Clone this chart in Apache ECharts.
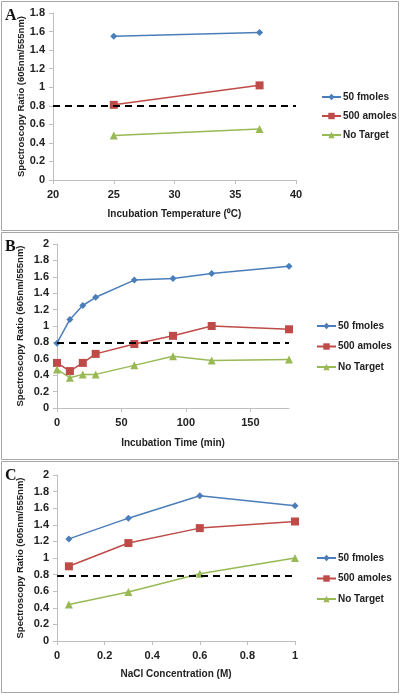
<!DOCTYPE html>
<html>
<head>
<meta charset="utf-8">
<script src="https://cdn.jsdelivr.net/npm/echarts@6/dist/echarts.min.js"></script>
<style>html,body{margin:0;padding:0;background:#fff}#c{width:400px;height:694px}</style>
</head>
<body>
<div id="c"></div>
<script>
// Panel A: incubation temperature
const tempX = [25, 37];
const tempFmol = [1.55, 1.59];
const tempAmol = [0.81, 1.02];
const tempNone = [0.48, 0.55];
// Panel B: incubation time
const timeX = [0, 10, 20, 30, 60, 90, 120, 180];
const timeFmol = [0.79, 1.08, 1.25, 1.35, 1.56, 1.58, 1.64, 1.73];
const timeAmol = [0.55, 0.45, 0.55, 0.66, 0.78, 0.88, 1.00, 0.96];
const timeNone = [0.47, 0.37, 0.41, 0.41, 0.52, 0.63, 0.58, 0.59];
// Panel C: NaCl concentration
const naclX = [0.05, 0.3, 0.6, 1.0];
const naclFmol = [1.23, 1.48, 1.75, 1.63];
const naclAmol = [0.90, 1.18, 1.36, 1.44];
const naclNone = [0.44, 0.59, 0.81, 1.00];
// Threshold (dashed line) per panel
const thresholds = [0.80, 0.79, 0.79];
const seriesNames = ['50 fmoles', '500 amoles', 'No Target'];
const panelLetters = ['A', 'B', 'C'];
const xTitles = ['Incubation Temperature (\u2070C)', 'Incubation Time (min)', 'NaCl Concentration (M)'];
const yTitle = 'Spectroscopy Ratio (605nm/555nm)';

const colors = ['#4a7ebb', '#be4b48', '#98b954'];
const symbols = ['diamond', 'rect', 'triangle'];
const symSizes = [7, 8, 8];
const FONT = '"Liberation Sans", Arial, sans-serif';

const panels = [
  {x: tempX, ys: [tempFmol, tempAmol, tempNone], grid: {left: 53, top: 13, width: 243, height: 167},
   xmin: 20, xmax: 40, xint: 5, ymax: 1.8, nameGapX: 29, nameGapY: 27, legendTop: 87, legendLeft: 316, gap: 9},
  {x: timeX, ys: [timeFmol, timeAmol, timeNone], grid: {left: 57, top: 244, width: 232, height: 164},
   xmin: 0, xmax: 180, xint: 50, ymax: 2, nameGapX: 30, nameGapY: 32, legendTop: 316, legendLeft: 311, gap: 10.5, hideMax: true},
  {x: naclX, ys: [naclFmol, naclAmol, naclNone], grid: {left: 57, top: 475, width: 238, height: 166},
   xmin: 0, xmax: 1, xint: 0.2, ymax: 2, nameGapX: 28, nameGapY: 32, legendTop: 548, legendLeft: 311, gap: 10.5}
];

const axisLineStyle = {lineStyle: {color: '#bfbfbf', width: 1}};
const labelStyle = {color: '#222', fontWeight: 'bold', fontSize: 11, fontFamily: FONT};
const xNameStyle = {color: '#222', fontWeight: 'bold', fontSize: 10, fontFamily: FONT};
const yNameStyle = {color: '#222', fontWeight: 'bold', fontSize: 9.5, fontFamily: FONT};

const option = {
  animation: false,
  backgroundColor: '#fff',
  grid: [], xAxis: [], yAxis: [], series: [], legend: [], graphic: []
};

panels.forEach((p, i) => {
  option.grid.push(p.grid);
  option.xAxis.push({
    type: 'value', gridIndex: i, min: p.xmin, max: p.xmax, interval: p.xint,
    axisLine: axisLineStyle, axisTick: {show: true, length: 4, lineStyle: {color: '#bfbfbf'}},
    splitLine: {show: false},
    axisLabel: Object.assign({margin: 9, showMaxLabel: !p.hideMax}, labelStyle),
    name: xTitles[i], nameLocation: 'middle', nameGap: p.nameGapX, nameTextStyle: xNameStyle,
    nameMoveOverlap: false
  });
  option.yAxis.push({
    type: 'value', gridIndex: i, min: 0, max: p.ymax, interval: 0.2,
    axisLine: {show: true, lineStyle: {color: '#bfbfbf'}},
    axisTick: {show: true, length: 4, lineStyle: {color: '#bfbfbf'}},
    splitLine: {show: false},
    axisLabel: Object.assign({margin: 8}, labelStyle),
    name: yTitle, nameLocation: 'middle', nameGap: p.nameGapY, nameTextStyle: yNameStyle,
    nameMoveOverlap: false
  });
  p.ys.forEach((vals, k) => {
    const s = {
      type: 'line', name: seriesNames[k], xAxisIndex: i, yAxisIndex: i,
      data: p.x.map((xv, j) => [xv, vals[j]]),
      symbol: symbols[k], symbolSize: symSizes[k], showSymbol: true,
      itemStyle: {color: colors[k]}, lineStyle: {color: colors[k], width: 1.5}
    };
    if (k === 0) {
      s.markLine = {
        silent: true, symbol: 'none', label: {show: false},
        lineStyle: {color: '#000', type: [7, 5], width: 2},
        data: [{yAxis: thresholds[i]}]
      };
    }
    option.series.push(s);
  });
  option.legend.push({
    data: seriesNames, orient: 'vertical', left: p.legendLeft, top: p.legendTop,
    itemWidth: 19, itemHeight: 8, itemGap: p.gap,
    textStyle: {color: '#222', fontWeight: 'bold', fontSize: 10, fontFamily: FONT, padding: [0, 0, 0, -3]}
  });
});

// panel frames and letters
const frames = [[1, 1, 397, 229], [1, 232, 397, 227], [1, 461, 397, 231]];
frames.forEach((f, i) => {
  option.graphic.push({
    type: 'rect', shape: {x: f[0] + 0.5, y: f[1] + 0.5, width: f[2], height: f[3]},
    style: {fill: 'none', stroke: '#a6a6a6', lineWidth: 1}, silent: true, z: -1
  });
  option.graphic.push({
    type: 'text', left: 5, top: f[1] + 7,
    style: {text: panelLetters[i], font: 'bold 16px "Liberation Serif", "DejaVu Serif", serif', fill: '#111'}
  });
});

const chart = echarts.init(document.getElementById('c'), null, {renderer: 'canvas'});
chart.setOption(option);
</script>
</body>
</html>
